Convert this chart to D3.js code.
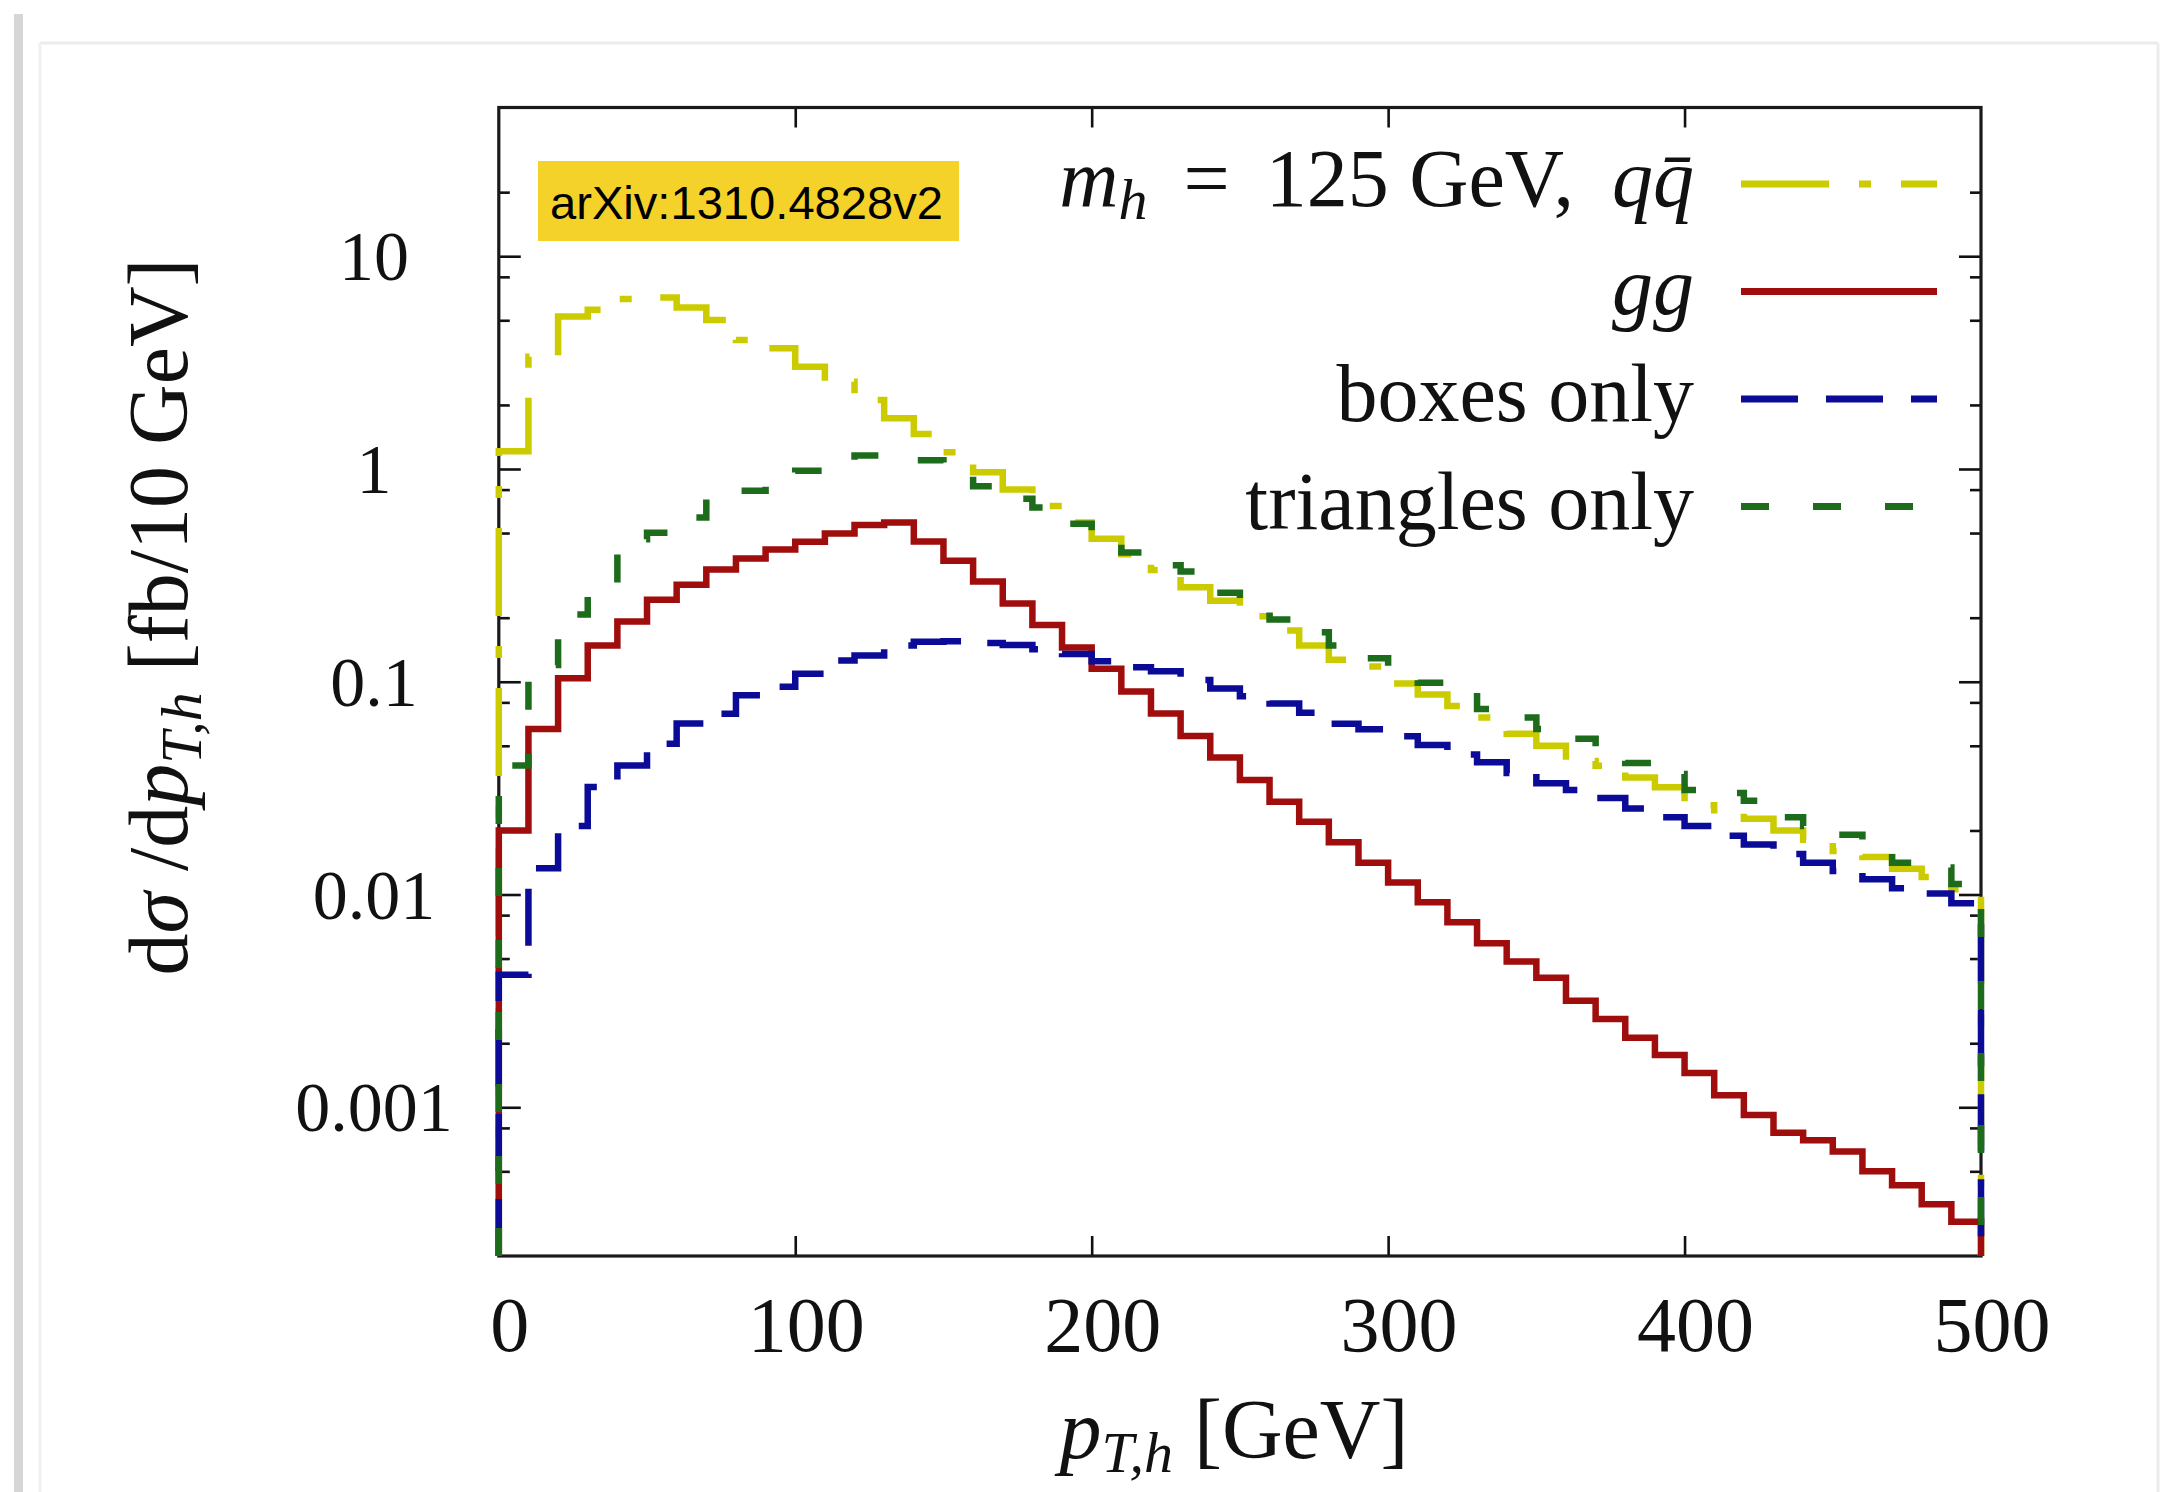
<!DOCTYPE html>
<html><head><meta charset="utf-8">
<script src="https://cdn.jsdelivr.net/npm/d3@7"></script>
<style>html,body{margin:0;padding:0;background:#fff;} svg{display:block;}</style>
</head><body>
<svg id="chart" width="2174" height="1492"></svg>
<script>
// ---- data (pT bins of 10 GeV, values in fb/10 GeV) ----
const binEdges = [0,10,20,30,40,50,60,70,80,90,100,110,120,130,140,150,160,170,180,190,
  200,210,220,230,240,250,260,270,280,290,300,310,320,330,340,350,360,370,380,390,
  400,410,420,430,440,450,460,470,480,490,500];
const qqbar = [1.21,3.37,5.21,5.6,6.3,6.4,5.74,5.02,4.04,3.69,
  3.02,2.57,2.11,1.73,1.46,1.20,0.965,0.80,0.67,0.56,
  0.47,0.397,0.335,0.278,0.24,0.203,0.174,0.148,0.127,0.118,
  0.098,0.087,0.077,0.068,0.057,0.050,0.0424,0.0403,0.0355,0.0319,
  0.0263,0.0249,0.0227,0.0200,0.0181,0.0160,0.0150,0.0132,0.0121,0.0106];
const gg = [0.020,0.060,0.104,0.148,0.192,0.243,0.286,0.337,0.380,0.418,
  0.455,0.497,0.545,0.560,0.456,0.370,0.296,0.233,0.185,0.145,
  0.115,0.090,0.071,0.0556,0.044,0.0345,0.0273,0.0220,0.0176,0.0141,
  0.0114,0.0092,0.0074,0.0059,0.00484,0.00406,0.00317,0.0026,0.00212,0.00176,
  0.00145,0.00114,0.00092,0.00076,0.00070,0.00062,0.00050,0.00043,0.00035,0.00029];
const boxes = [0.0042,0.0133,0.021,0.032,0.0404,0.0511,0.0636,0.0708,0.0865,0.0947,
  0.109,0.126,0.133,0.148,0.154,0.155,0.152,0.149,0.142,0.135,
  0.125,0.117,0.112,0.102,0.093,0.0855,0.079,0.0715,0.0635,0.0598,
  0.0555,0.0505,0.0455,0.0418,0.0373,0.0333,0.031,0.0284,0.0254,0.0231,
  0.021,0.0189,0.0172,0.0155,0.0141,0.0129,0.0118,0.0107,0.0101,0.0091];
const triangles = [0.0404,0.12,0.207,0.275,0.467,0.502,0.591,0.74,0.79,0.88,
  0.98,1.07,1.156,1.15,1.10,1.02,0.83,0.725,0.66,0.553,
  0.466,0.405,0.353,0.33,0.262,0.226,0.196,0.171,0.148,0.129,
  0.115,0.099,0.089,0.0745,0.068,0.060,0.054,0.0465,0.0415,0.0368,
  0.031,0.030,0.0276,0.0231,0.021,0.0191,0.0173,0.0141,0.0134,0.0112];

const xTickValues = [0,100,200,300,400,500];
const xTickLabels = ["0","100","200","300","400","500"];
const yTickValues = [0.001,0.01,0.1,1,10];
const yTickLabels = ["0.001","0.01","0.1","1","10"];
const yMinorValues = [0.0005,0.0008,0.002,0.005,0.008,0.02,0.05,0.08,0.2,0.5,0.8,2,5,8,20];
const seriesNames = ["qqbar","gg","boxes","triangles"];
const legendLabels = ["m_h = 125 GeV, qq̄","gg","boxes only","triangles only"];

// ---- layout ----
const W = 2174, H = 1492;
const L = 498.8, R = 1981, T = 107.5, B = 1256;
const svg = d3.select("#chart");
svg.append("rect").attr("width",W).attr("height",H).attr("fill","#fff");
// card edges
svg.append("rect").attr("x",14).attr("y",14).attr("width",9).attr("height",H).attr("fill","#d6d6d6");
svg.append("line").attr("x1",40).attr("x2",2158).attr("y1",43).attr("y2",43).attr("stroke","#ececec").attr("stroke-width",3);
svg.append("line").attr("x1",2158).attr("x2",2158).attr("y1",43).attr("y2",H).attr("stroke","#ececec").attr("stroke-width",3);
svg.append("line").attr("x1",40).attr("x2",40).attr("y1",43).attr("y2",H).attr("stroke","#f0f0f0").attr("stroke-width",3);

const x = d3.scaleLinear().domain([0,500]).range([L,R]);
const y = d3.scaleLog().domain([0.0002,50]).range([B,T]);

const serif = "'Liberation Serif','Times New Roman',serif";

// ---- ticks (inward, mirrored) ----
const tickCol = "#111";
const gAx = svg.append("g");
function styleAxis(g){ g.select(".domain").remove(); g.selectAll("line").attr("stroke",tickCol).attr("stroke-width",2.6); g.selectAll("text").remove(); }
gAx.append("g").attr("transform",`translate(${L},0)`).call(d3.axisLeft(y).tickValues(yTickValues).tickSize(-22)).call(styleAxis);
gAx.append("g").attr("transform",`translate(${L},0)`).call(d3.axisLeft(y).tickValues(yMinorValues).tickSize(-11)).call(styleAxis);
gAx.append("g").attr("transform",`translate(${R},0)`).call(d3.axisRight(y).tickValues(yTickValues).tickSize(-22)).call(styleAxis);
gAx.append("g").attr("transform",`translate(${R},0)`).call(d3.axisRight(y).tickValues(yMinorValues).tickSize(-11)).call(styleAxis);
gAx.append("g").attr("transform",`translate(0,${B})`).call(d3.axisBottom(x).tickValues(xTickValues.slice(1,-1)).tickSize(-20)).call(styleAxis);
gAx.append("g").attr("transform",`translate(0,${T})`).call(d3.axisTop(x).tickValues(xTickValues.slice(1,-1)).tickSize(-20)).call(styleAxis);

// frame
svg.append("rect").attr("x",L).attr("y",T).attr("width",R-L).attr("height",B-T)
  .attr("fill","none").attr("stroke","#1a1a1a").attr("stroke-width",3.2);

// tick labels
svg.append("g").selectAll("text").data(yTickValues).join("text")
  .attr("x",374).attr("y",d=>y(d)+24).attr("text-anchor","middle")
  .attr("font-family",serif).attr("font-size",70).attr("fill","#111")
  .text((d,i)=>yTickLabels[i]);
svg.append("g").selectAll("text").data(xTickValues).join("text")
  .attr("x",d=>x(d)+11).attr("y",1351).attr("text-anchor","middle")
  .attr("font-family",serif).attr("font-size",78).attr("fill","#111")
  .text((d,i)=>xTickLabels[i]);

// ---- series ----
const styles = {
  qqbar:{color:"#cbcb00", dash:"88,30,12,30", vals:qqbar},
  gg:{color:"#a00d0d", dash:null, vals:gg},
  boxes:{color:"#0b0b98", dash:"57,28", vals:boxes},
  triangles:{color:"#1c6c1c", dash:"28,44", vals:triangles}
};
svg.append("clipPath").attr("id","clip").append("rect")
  .attr("x",L-5).attr("y",T).attr("width",R-L+10).attr("height",B-T);
const floorV = y.domain()[0];
const line = d3.line().x(d=>x(d[0])).y(d=>y(d[1])).curve(d3.curveStepAfter);
const gS = svg.append("g").attr("clip-path","url(#clip)");
seriesNames.forEach(name=>{
  const s = styles[name];
  const pts = [[binEdges[0], floorV]];
  s.vals.forEach((v,i)=>pts.push([binEdges[i], v]));
  pts.push([binEdges[binEdges.length-1], s.vals[s.vals.length-1]]);
  pts.push([binEdges[binEdges.length-1], floorV]);
  gS.append("path").attr("d",line(pts)).attr("fill","none")
    .attr("stroke",s.color).attr("stroke-width",6.5)
    .attr("stroke-dasharray",s.dash).attr("stroke-linejoin","miter").attr("stroke-linecap","butt");
});

// ---- legend ----
const legX0 = 1741, legX1 = 1937, legTextX = 1694;
const legY = [184, 291.5, 399, 506.5];
seriesNames.forEach((name,i)=>{
  const s = styles[name];
  svg.append("line").attr("x1",legX0).attr("x2",legX1).attr("y1",legY[i]).attr("y2",legY[i])
    .attr("stroke",s.color).attr("stroke-width",7).attr("stroke-dasharray",s.dash);
});
function legendText(i){
  return svg.append("text").attr("x",legTextX).attr("y",legY[i]+22).attr("text-anchor","end")
    .attr("font-family",serif).attr("font-size",82).attr("fill","#111");
}
{ const t = legendText(0);
  t.append("tspan").attr("font-style","italic").text("m");
  t.append("tspan").attr("font-style","italic").attr("font-size",58).attr("dy",13).text("h");
  t.append("tspan").attr("dy",-13).attr("dx",36).text("=");
  t.append("tspan").attr("dx",36).text("125 GeV,");
  t.append("tspan").attr("dx",38).attr("font-style","italic").text("qq\u0304"); }
{ const t = legendText(1); t.append("tspan").attr("font-style","italic").text("gg"); }
legendText(2).text(legendLabels[2]);
legendText(3).text(legendLabels[3]);

// ---- axis titles ----
{ const t = svg.append("text").attr("x",1234).attr("y",1458).attr("text-anchor","middle")
    .attr("font-family",serif).attr("font-size",84).attr("fill","#111");
  t.append("tspan").attr("font-style","italic").text("p");
  t.append("tspan").attr("font-style","italic").attr("font-size",58).attr("dy",14).text("T,h");
  t.append("tspan").attr("dy",-14).text(" [GeV]"); }
{ const t = svg.append("text").attr("transform","translate(187,617) rotate(-90)").attr("text-anchor","middle")
    .attr("font-family",serif).attr("font-size",84).attr("fill","#111");
  t.append("tspan").text("d");
  t.append("tspan").attr("font-style","italic").text("σ");
  t.append("tspan").text(" /d");
  t.append("tspan").attr("font-style","italic").text("p");
  t.append("tspan").attr("font-style","italic").attr("font-size",58).attr("dy",14).text("T,h");
  t.append("tspan").attr("dy",-14).text(" [fb/10 GeV]"); }

// ---- arXiv badge ----
svg.append("rect").attr("x",538).attr("y",161).attr("width",421).attr("height",80).attr("fill","#f5d22a");
svg.append("text").attr("x",550).attr("y",219).attr("font-family","'Liberation Sans',Arial,sans-serif")
  .attr("font-size",46).attr("textLength",393).attr("lengthAdjust","spacingAndGlyphs").attr("fill","#000")
  .text("arXiv:1310.4828v2");
</script>
</body></html>
